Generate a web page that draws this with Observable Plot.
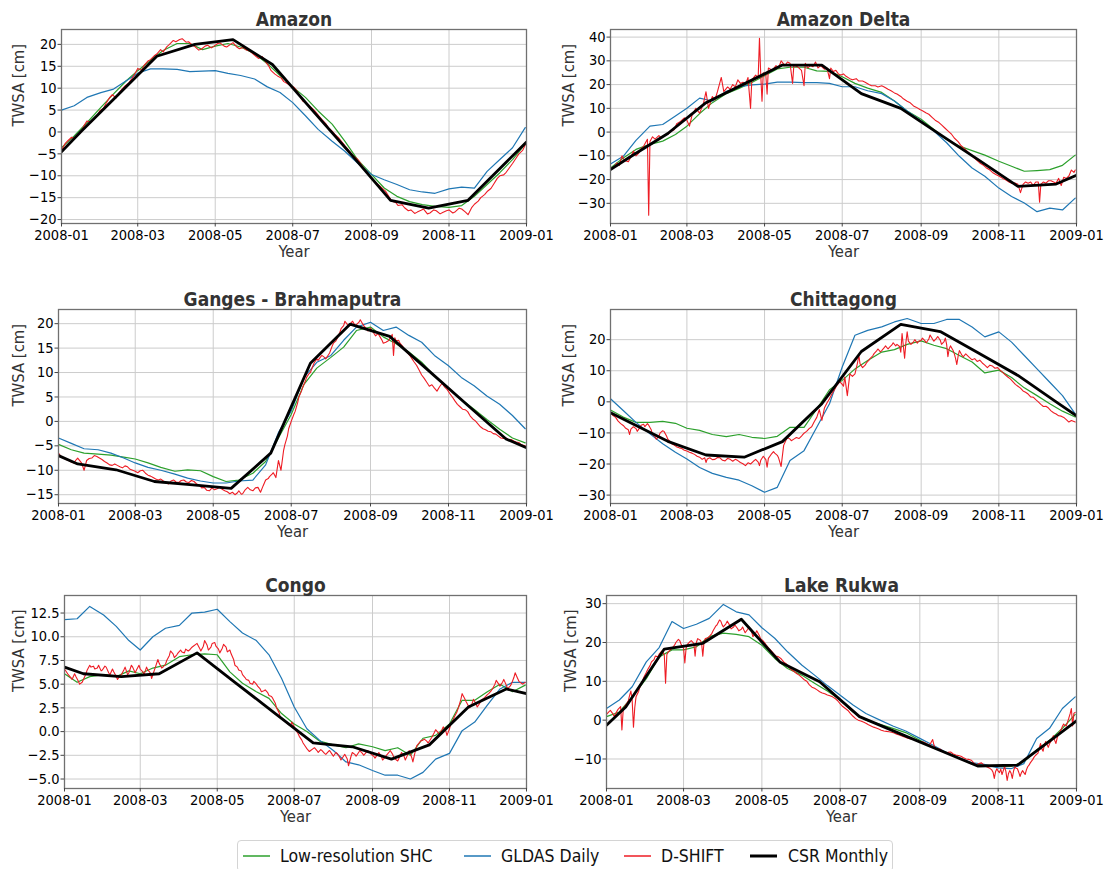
<!DOCTYPE html>
<html><head><meta charset="utf-8">
<script src="https://cdn.jsdelivr.net/npm/d3@7"></script>
<script src="https://cdn.jsdelivr.net/npm/@observablehq/plot@0.6"></script>
<style>
body{margin:0;background:#fff;}
#root{position:relative;width:1105px;height:869px;overflow:hidden;font-family:"DejaVu Sans Condensed","DejaVu Sans",sans-serif;font-stretch:condensed;}
.panel{position:absolute;}
.legend{position:absolute;left:237px;top:840px;width:656px;height:32px;box-sizing:border-box;border:1px solid #d4d4d4;border-radius:4px;font-size:17.5px;color:#111;}
.sw{position:absolute;top:9px;width:27px;height:12px;}
.lt{position:absolute;top:4px;white-space:nowrap;line-height:22px;}
</style></head>
<body><div id="root"></div>
<script>
// ---------- shared x positions ----------
const smoothDates = ["2008-01-01","2008-01-11","2008-01-21","2008-02-01","2008-02-11","2008-02-21","2008-03-01","2008-03-11","2008-03-21","2008-04-01","2008-04-11","2008-04-21","2008-05-01","2008-05-11","2008-05-21","2008-06-01","2008-06-11","2008-06-21","2008-07-01","2008-07-11","2008-07-21","2008-08-01","2008-08-11","2008-08-21","2008-09-01","2008-09-11","2008-09-21","2008-10-01","2008-10-11","2008-10-21","2008-11-01","2008-11-11","2008-11-21","2008-12-01","2008-12-11","2008-12-21","2008-12-31"];
const monthlyDates = ["2008-01-01","2008-01-16","2008-02-15","2008-03-16","2008-04-15","2008-05-15","2008-06-15","2008-07-16","2008-08-16","2008-09-16","2008-10-16","2008-11-16","2008-12-16","2009-01-01"];
const xTickDates = ["2008-01-01","2008-03-01","2008-05-01","2008-07-01","2008-09-01","2008-11-01","2009-01-01"];
const seriesNames = ["Low-resolution SHC","GLDAS Daily","D-SHIFT","CSR Monthly"];

// ---------- Amazon ----------
const amazonSHC = [-3.6,-0.9,2.1,5.6,8.7,11.7,14.0,16.3,18.6,20.2,20.2,18.8,19.6,20.2,19.4,17.9,15.6,12.9,10.3,7.9,4.8,1.8,-2.1,-6.3,-9.7,-12.8,-14.7,-15.9,-16.6,-17.0,-17.2,-16.8,-14.7,-12.0,-9.3,-6.3,-2.8];
const amazonGLDAS = [5.0,6.0,7.9,9.0,9.8,11.7,13.4,14.4,14.4,14.3,13.8,13.9,14.0,13.4,12.9,12.1,10.3,9.0,6.7,3.7,0.6,-2.1,-4.4,-7.1,-9.7,-10.9,-12.0,-13.2,-13.7,-14.0,-13.0,-12.6,-12.8,-9.0,-6.3,-3.6,1.0];
const amazonDSHIFT = [[0,-4.2],[3,-2.6],[5,-2.0],[8,-1.2],[10,-1.5],[13,-0.6],[15,-0.2],[18,1.6],[20,2.5],[23,2.2],[25,2.7],[28,3.6],[30,4.8],[33,5.4],[35,6.5],[38,7.9],[40,8.5],[43,7.8],[45,8.8],[48,9.9],[50,10.5],[53,11.2],[55,12.0],[58,13.4],[60,14.5],[63,14.1],[65,15.2],[68,16.2],[70,16.5],[73,17.4],[75,17.8],[78,18.8],[80,18.3],[83,19.5],[85,20.0],[88,20.9],[90,20.6],[93,21.1],[95,21.3],[98,20.5],[100,20.6],[103,19.8],[105,19.5],[108,18.7],[110,18.9],[113,19.6],[115,19.8],[118,19.2],[120,19.6],[123,20.2],[125,20.3],[128,19.6],[130,19.4],[133,20.0],[135,20.4],[138,19.4],[140,19.0],[143,19.3],[145,18.8],[148,18.5],[150,18.0],[153,17.3],[155,16.8],[158,17.2],[160,16.3],[163,15.1],[165,14.0],[168,13.2],[170,12.8],[173,12.3],[175,11.5],[178,11.0],[180,10.6],[183,10.2],[185,9.5],[188,8.0],[190,7.0],[193,6.6],[195,6.0],[198,5.2],[200,4.6],[203,3.5],[205,2.8],[208,1.9],[210,1.0],[213,0.2],[215,-0.5],[218,-1.3],[220,-2.0],[223,-3.1],[225,-3.8],[228,-4.9],[230,-5.5],[233,-6.2],[235,-7.0],[238,-8.3],[240,-9.0],[243,-10.2],[245,-10.8],[248,-11.7],[250,-12.2],[253,-13.0],[255,-13.5],[258,-14.9],[260,-15.8],[263,-16.1],[265,-16.8],[268,-16.6],[270,-17.3],[273,-18.0],[275,-17.8],[278,-18.6],[280,-18.3],[283,-17.9],[285,-17.6],[288,-18.7],[290,-18.5],[293,-17.8],[295,-18.0],[298,-18.7],[300,-18.4],[303,-18.0],[305,-17.8],[308,-18.5],[310,-18.2],[313,-17.4],[315,-17.6],[318,-18.3],[320,-18.9],[323,-17.2],[325,-16.5],[328,-15.8],[330,-15.0],[333,-14.3],[335,-13.6],[338,-12.9],[340,-12.0],[343,-10.6],[345,-10.0],[348,-9.8],[350,-9.2],[353,-8.0],[355,-7.2],[358,-5.9],[360,-5.0],[363,-4.2],[365,-3.0]];
const amazonCSR = [-4.5,0.0,8.6,17.3,20.0,21.1,15.4,5.1,-5.1,-15.6,-17.4,-15.6,-6.9,-2.3];

// ---------- Amazon Delta ----------
const deltaSHC = [-15.1,-10.9,-7.3,-5.2,-3.8,-1.0,2.5,7.8,12.4,16.2,18.4,20.9,23.7,26.6,27.3,27.3,25.8,25.6,23.3,20.5,18.5,16.7,13.1,8.9,5.4,1.1,-3.1,-5.9,-7.8,-9.7,-12.3,-14.4,-16.5,-16.2,-15.8,-14.0,-9.7];
const deltaGLDAS = [-13.4,-10.2,-3.5,2.5,3.2,6.8,10.0,14.3,13.1,17.2,19.1,19.9,20.2,21.0,21.0,20.8,20.8,20.5,19.1,19.1,17.4,16.2,13.1,8.9,4.7,0.4,-4.5,-10.2,-15.1,-18.6,-23.6,-27.1,-29.9,-33.5,-32.0,-32.8,-27.8];
const deltaDSHIFT = [[0,-15.5],[3,-14.5],[5,-13],[7,-14],[9,-10],[11,-12],[14,-12.5],[16,-10.5],[18,-8],[20,-10],[22,-9],[24,-7],[26,-6],[28,-4],[29,-3],[30,-35],[31,-4],[33,-2],[35,-3],[38,-1.5],[40,-2.5],[43,-1],[45,-1],[48,0.5],[50,1],[52,3.5],[55,4.5],[58,6],[60,5],[62,2.5],[64,7],[67,10],[70,8],[73,12],[75,17],[77,10],[80,15],[82,13.5],[84,17],[87,23],[89,17],[92,19],[94,18],[96,20],[98,19],[100,22],[102,20.5],[104,21],[106,20],[108,23],[110,10],[111,22],[114,24],[116,23],[117,39.5],[118,24],[119,13],[120,25],[122,24],[123,16],[124,27],[127,26],[130,28],[132,27],[134,30],[137,28],[139,29.5],[141,29],[143,20.5],[144,28],[147,27.5],[150,26],[152,19.5],[153,29],[155,27],[157,28],[159,27.5],[161,29.5],[163,27],[165,28],[168,26.5],[170,27],[172,22.5],[173,27],[175,25.5],[177,26],[179,24.5],[181,24],[183,24.5],[185,23.5],[188,22.5],[190,22],[193,22.5],[195,21.5],[198,21.5],[200,21],[203,20],[205,19.5],[208,19.5],[210,19],[213,19.5],[215,19],[218,18],[220,17.5],[223,16.5],[225,16],[228,15],[230,14],[233,13],[235,12.5],[238,11],[240,10.5],[243,9.5],[245,9],[248,8],[250,7.5],[253,6],[255,5],[258,4],[260,3],[263,1.5],[265,0.5],[268,-1],[270,-2.5],[273,-4],[275,-5.5],[278,-7],[280,-8],[283,-9.5],[285,-10.5],[288,-12],[290,-13],[293,-14],[295,-15],[298,-16],[300,-17],[303,-18],[305,-18.5],[308,-19.5],[310,-20],[313,-21],[315,-21.5],[318,-21.5],[320,-22],[322,-25.5],[324,-22],[326,-21],[328,-21.5],[330,-21],[332,-22.5],[334,-21],[336,-21],[337,-29.5],[338,-22],[340,-21],[342,-21.5],[344,-20.5],[346,-20.5],[348,-21],[350,-21.5],[352,-19.5],[354,-22.5],[356,-19],[358,-19.5],[360,-18.5],[362,-16],[364,-17],[365,-16]];
const deltaCSR = [-15.8,-10.6,-0.6,12.4,20.3,28.2,28.2,16.2,10.0,-1.1,-11.7,-22.9,-21.9,-18.2];

// ---------- Ganges - Brahmaputra ----------
const gangesSHC = [-4.7,-5.8,-6.5,-6.7,-6.9,-7.3,-7.7,-8.5,-9.4,-10.2,-9.9,-10.1,-11.3,-12.3,-12.0,-10.6,-8.2,-3.4,1.4,7.6,10.9,13.1,15.2,18.6,19.3,17.3,15.9,14.2,12.1,9.3,6.8,4.5,2.5,0.4,-1.6,-3.4,-4.4];
const gangesGLDAS = [-3.4,-4.5,-5.6,-5.8,-6.5,-7.5,-8.5,-9.4,-10.0,-10.8,-11.6,-12.2,-12.6,-12.6,-12.2,-12.0,-8.9,-2.3,2.1,9.0,12.1,13.5,16.6,19.3,20.3,18.6,19.3,17.6,16.2,13.5,11.4,9.0,7.3,5.2,3.5,1.2,-1.5];
const gangesDSHIFT = [[0,-6.5],[2,-7.2],[4,-7.5],[6,-7.8],[8,-8],[10,-8.3],[12,-8.5],[14,-7.8],[15,-7.5],[18,-8.5],[20,-10],[22,-8],[24,-7.6],[26,-7.5],[28,-7.0],[30,-7.2],[32,-7.5],[34,-7.8],[36,-8.2],[38,-8.5],[40,-8.9],[42,-9],[44,-8.7],[46,-9],[48,-9.3],[50,-9.5],[52,-9.1],[54,-9.3],[56,-9.8],[58,-10],[60,-10.2],[62,-10.5],[64,-10.1],[66,-10],[68,-10.6],[70,-11],[72,-11.2],[74,-11.5],[76,-11.8],[78,-12],[80,-11.8],[82,-12.2],[84,-12.5],[86,-12.8],[88,-12.2],[90,-12],[92,-12.4],[94,-12.5],[96,-12.1],[98,-12],[100,-12.4],[102,-12.5],[104,-12.1],[106,-12.3],[108,-12.8],[110,-13],[112,-13.6],[114,-13.5],[116,-14.1],[118,-14.2],[120,-13.6],[122,-14],[124,-13.8],[126,-13.5],[128,-13.9],[130,-14.2],[132,-14.4],[134,-14.8],[136,-14.5],[138,-15],[140,-14.6],[141,-14.2],[143,-14.9],[144,-14.8],[146,-14.0],[148,-13.5],[150,-14.0],[152,-14.2],[154,-13.6],[156,-13.5],[158,-14.5],[160,-13.2],[162,-12],[164,-11.7],[165,-11.3],[167,-10.8],[168,-10.5],[170,-11.5],[172,-8],[174,-10],[176,-6],[177,-4.8],[179,-3],[180,-1.5],[182,0],[184,1.4],[185,2],[187,3.8],[188,5],[190,6.2],[191,7],[193,8.2],[194,9],[196,9.8],[197,10],[199,11.4],[200,12],[202,12.8],[203,12.5],[205,13.2],[206,13.5],[208,13.1],[209,12.8],[211,13.6],[212,14],[214,15.4],[215,16],[217,16.5],[218,17],[220,18.2],[221,19],[223,19.6],[224,20.5],[226,19.8],[227,19.5],[229,20.2],[230,20.5],[232,19.6],[233,19.8],[235,20.3],[236,20.8],[238,19.9],[239,19.5],[241,18.9],[242,18.5],[244,19.1],[245,18.7],[247,17.9],[248,17.5],[250,18.0],[251,17.5],[253,16.6],[254,16],[256,16.2],[258,16.5],[260,17.3],[261,17.8],[262,13.5],[263,17.1],[264,16.5],[266,16.6],[267,16],[269,15.4],[270,15],[272,14.4],[273,14],[275,13.4],[276,13],[278,12.2],[280,11.5],[282,10.5],[284,9.5],[286,8.8],[288,8],[290,7.2],[292,7.5],[294,6.8],[296,6.2],[298,7.1],[300,7.8],[302,7.0],[304,6.5],[306,5.7],[308,5],[310,4.2],[312,3.5],[314,3.0],[316,2.5],[318,2.4],[320,2],[322,1.1],[324,0.5],[326,0.1],[328,-0.5],[330,-1.1],[332,-1.5],[334,-1.7],[336,-2],[338,-2.1],[340,-2.5],[342,-2.6],[344,-3],[346,-3.4],[348,-3.5],[350,-3.4],[352,-3.8],[354,-3.7],[356,-4],[358,-4.2],[360,-4.3],[362,-4.8],[365,-5]];
const gangesCSR = [-7.0,-8.7,-9.9,-12.3,-13.0,-13.7,-6.5,11.9,19.9,17.4,10.5,3.3,-3.6,-5.4];

// ---------- Chittagong ----------
const chittSHC = [-2.6,-4.9,-6.6,-6.6,-6.3,-6.9,-8.5,-9.2,-10.5,-11.2,-10.5,-11.4,-11.8,-11.1,-8.2,-8.2,-2.3,3.9,6.9,10.6,13.3,16.0,16.8,18.5,19.6,18.2,17.1,14.9,12.8,9.3,10.2,7.8,4.5,2.0,-0.6,-3.0,-4.9];
const chittGLDAS = [1.0,-2.8,-6.6,-10.3,-13.5,-16.2,-18.4,-21.1,-23.0,-24.3,-25.2,-27.0,-29.1,-27.5,-18.9,-15.7,-8.2,-0.6,11.2,21.4,23.0,24.1,25.7,26.8,25.2,25.2,26.5,26.5,24.1,20.9,22.5,19.2,14.9,10.6,6.3,2.0,-3.9];
const chittDSHIFT = [[0,-3.5],[2,-4.4],[4,-5],[6,-6.2],[8,-7],[10,-7.6],[12,-8.5],[14,-9.0],[15,-10.5],[16,-8.8],[18,-8],[20,-8.6],[21,-9.5],[23,-8.3],[24,-7.5],[26,-7.2],[27,-8],[29,-7.0],[30,-7.5],[32,-9.0],[33,-10.5],[35,-11.2],[36,-12],[38,-11.0],[39,-10],[41,-9.3],[42,-9.5],[44,-11.0],[45,-12],[47,-12.9],[48,-13.5],[50,-13.9],[52,-14.5],[54,-14.8],[56,-15],[58,-15.6],[60,-15.8],[62,-16.2],[64,-16.5],[66,-16.9],[68,-17.5],[70,-17.8],[72,-18.5],[74,-18.0],[75,-19.5],[76,-18.4],[78,-18],[80,-18.6],[82,-18.5],[84,-17.9],[86,-18],[88,-18.8],[90,-19],[92,-18.2],[94,-18.5],[96,-19.1],[98,-18.5],[100,-18.9],[102,-19.5],[104,-19.9],[106,-20.5],[108,-19.6],[110,-20],[112,-19.2],[114,-18.5],[116,-19.4],[117,-20.5],[118,-18.8],[120,-17.5],[122,-18.6],[123,-21],[124,-18.2],[126,-17],[128,-16.0],[129,-16.5],[131,-17.2],[132,-18],[134,-20.8],[136,-14],[138,-12.2],[139,-11.5],[141,-12.0],[142,-12.5],[144,-12.0],[146,-11.5],[148,-11.8],[150,-11],[152,-10.1],[154,-9.5],[156,-8.6],[158,-8],[160,-6.4],[162,-5],[164,-2.5],[166,-6],[168,-2],[170,-0.4],[172,1],[174,2.6],[176,4],[178,5.4],[180,6.5],[182,5.6],[183,5],[184,8],[186,2],[188,9],[190,8.2],[192,9],[194,12.5],[195,15],[196,12.2],[198,11],[200,11.8],[201,12.5],[203,13.4],[204,14],[206,14.8],[207,15.5],[209,16.4],[210,17],[212,16.1],[213,16.5],[215,17.4],[216,18],[218,17.0],[219,17.5],[221,18.3],[222,19],[224,18.0],[225,18.5],[227,17.8],[228,16],[229,22],[230,18],[231,14],[232,19],[233,22.5],[234,19.5],[236,18.5],[238,19.3],[239,20],[241,18.9],[242,19.5],[244,19.8],[245,20.5],[247,19.6],[248,19],[250,20.2],[251,21.5],[253,20.1],[254,19.5],[256,20.4],[257,21],[259,19.8],[260,18.5],[262,19.4],[263,20.5],[264,18.5],[265,14.5],[266,17.0],[267,18],[269,16.6],[270,15.5],[271,14.0],[272,12],[273,14.6],[274,16.5],[276,15.0],[277,14.5],[279,15.4],[280,15],[282,14.2],[284,13.5],[286,13.9],[288,13],[290,13.4],[292,12.5],[294,11.8],[296,11],[298,11.8],[300,11.5],[302,10.8],[304,11],[306,10.2],[308,9.5],[310,8.7],[312,8],[314,7.4],[316,6.5],[318,5.6],[320,5],[322,4.4],[324,3.5],[326,3.1],[328,2.5],[330,1.6],[332,1.5],[334,0.7],[336,0],[338,-0.8],[340,-1.5],[342,-1.4],[344,-2],[346,-2.9],[348,-3.5],[350,-3.9],[352,-4.5],[354,-4.6],[356,-5],[358,-5.7],[360,-6.5],[362,-6.0],[365,-6.5]];
const chittCSR = [-3.5,-6.6,-12.7,-17.1,-17.8,-12.8,-0.6,16.2,24.9,22.6,15.7,8.5,0.0,-4.5];

// ---------- Congo ----------
const congoSHC = [6.1,5.2,5.8,6.0,5.8,6.4,6.1,6.7,7.0,7.9,8.1,8.2,8.1,6.3,5.1,4.2,3.5,1.9,0.8,0.0,-1.0,-1.4,-1.7,-1.3,-1.6,-2.0,-1.7,-2.5,-0.7,-0.4,0.8,3.3,3.3,4.2,5.0,4.2,4.9];
const congoGLDAS = [11.8,11.9,13.2,12.3,11.1,9.6,8.6,10.0,10.9,11.2,12.5,12.6,12.9,11.6,10.4,9.6,8.1,5.6,2.6,0.3,-0.9,-2.0,-3.2,-3.5,-4.1,-4.6,-4.6,-5.0,-4.3,-2.9,-2.3,0.1,1.0,2.8,4.5,5.2,5.2];
const congoDSHIFT = [[0,6.6],[2,6.2],[3,6.0],[5,5.7],[6,5.5],[8,6.1],[9,5.8],[11,5.3],[12,5.0],[14,5.2],[15,5.5],[17,6.1],[18,6.5],[20,7.0],[21,6.8],[23,6.9],[24,6.6],[26,6.7],[27,7.0],[29,6.4],[30,6.5],[32,6.9],[33,6.8],[35,6.2],[36,6.0],[38,6.6],[39,6.3],[41,5.8],[42,5.5],[44,5.9],[45,6.0],[47,6.5],[48,6.8],[50,6.0],[51,6.2],[53,7.0],[54,6.8],[56,6.2],[57,6.5],[59,7.0],[60,6.6],[62,6.3],[63,6.0],[65,6.8],[66,6.5],[68,6.2],[69,5.6],[71,6.4],[72,6.8],[74,7.6],[75,7.2],[77,6.7],[78,6.8],[80,7.1],[81,7.5],[83,8.0],[84,8.5],[86,8.2],[87,7.8],[89,8.1],[90,8.3],[92,8.6],[93,8.4],[95,8.3],[96,8.7],[98,8.5],[99,8.6],[101,8.9],[102,9.0],[104,9.2],[105,9.3],[107,8.8],[108,8.5],[110,9.0],[111,9.6],[113,9.1],[114,8.6],[116,8.9],[117,9.3],[119,9.4],[120,9.0],[122,8.7],[123,8.3],[125,8.8],[126,9.2],[128,8.9],[129,8.4],[131,8.6],[132,8.2],[134,7.6],[135,7.0],[137,6.8],[138,6.5],[140,6.4],[141,6.0],[143,5.7],[144,5.5],[146,5.4],[147,5.1],[149,5.0],[150,5.3],[152,5.0],[153,4.8],[155,4.5],[156,4.2],[158,4.3],[159,4.4],[161,4.1],[162,3.8],[164,3.7],[165,3.5],[167,3.0],[168,2.5],[170,2.0],[171,1.5],[173,1.3],[174,1.2],[176,1.0],[177,0.8],[179,0.6],[180,1.0],[182,0.5],[183,0.2],[185,-0.2],[186,-0.5],[188,-0.9],[189,-1.2],[191,-1.6],[192,-1.8],[194,-2.1],[195,-2.0],[197,-1.8],[198,-1.7],[200,-2.0],[201,-2.2],[203,-1.9],[204,-2.0],[206,-2.3],[207,-2.4],[209,-2.1],[210,-2.0],[212,-2.4],[213,-2.6],[215,-2.2],[216,-2.3],[218,-2.7],[219,-3.0],[221,-2.6],[222,-2.4],[224,-2.9],[225,-3.6],[227,-2.6],[228,-2.2],[230,-2.4],[231,-2.6],[233,-2.2],[234,-2.0],[236,-2.3],[237,-2.5],[239,-2.2],[240,-2.0],[242,-2.2],[243,-2.4],[245,-2.6],[246,-2.8],[248,-2.4],[249,-2.2],[251,-2.6],[252,-3.0],[254,-2.7],[255,-2.5],[257,-2.2],[258,-2.0],[260,-2.4],[261,-2.8],[263,-3.0],[264,-3.1],[266,-2.5],[267,-2.2],[269,-2.6],[270,-3.0],[272,-2.4],[273,-2.0],[275,-2.7],[276,-3.2],[278,-2.0],[279,-1.5],[281,-1.2],[282,-1.0],[284,-0.9],[285,-0.8],[287,-1.0],[288,-1.2],[290,-0.8],[291,-0.6],[293,-0.1],[294,0.2],[296,-0.1],[297,-0.3],[299,0.2],[300,0.5],[302,0.1],[303,-0.4],[305,0.3],[306,0.8],[308,1.3],[309,1.6],[311,2.1],[312,2.5],[314,3.4],[315,4.0],[317,3.5],[318,3.2],[320,2.7],[321,2.5],[323,3.0],[324,3.4],[326,2.9],[327,2.6],[329,3.0],[330,3.3],[332,3.5],[333,3.6],[335,3.9],[336,4.0],[338,4.3],[339,4.5],[341,5.0],[342,5.4],[344,5.0],[345,4.8],[347,5.2],[348,5.5],[350,4.9],[351,4.5],[353,4.8],[354,5.0],[356,5.7],[357,6.2],[359,5.6],[360,5.3],[362,5.1],[363,5.0],[365,5.2]];
const congoCSR = [6.8,6.1,5.8,6.1,8.3,5.2,2.0,-1.2,-1.6,-2.9,-1.4,2.6,4.5,4.0];

// ---------- Lake Rukwa ----------
const rukwaSHC = [0.9,2.1,6.0,10.7,16.3,18.1,18.1,18.9,21.5,22.4,22.1,21.5,19.3,15.9,13.3,11.6,9.5,7.5,5.2,2.1,0.0,-1.1,-2.1,-3.2,-5.2,-6.9,-8.2,-9.7,-11.2,-11.6,-12.0,-11.9,-10.7,-7.7,-5.2,-2.1,1.5];
const rukwaGLDAS = [3.0,5.2,8.6,15.0,18.7,25.4,23.6,24.7,26.2,29.8,27.9,27.1,23.8,21.1,17.6,14.2,11.6,8.9,6.4,3.9,1.7,0.0,-1.5,-2.8,-4.7,-6.4,-8.2,-9.7,-10.9,-11.4,-12.3,-12.5,-11.2,-4.7,-2.1,3.0,6.0];
const rukwaDSHIFT = [[0,1.5],[2,2.2],[3,2.5],[5,1.6],[6,1.0],[8,2.2],[9,2.8],[11,3.5],[12,-2.5],[13,2.6],[14,3.5],[16,4.4],[17,5],[18,6.4],[19,7.5],[20,5.0],[21,-1.8],[22,3.2],[23,6],[25,7.4],[26,8.5],[28,10.1],[29,11],[31,12.3],[32,13],[34,14.1],[35,15],[37,15.6],[38,16.5],[40,16.3],[41,17],[43,17.8],[44,17.5],[45,16.8],[46,9.5],[47,16.9],[48,17.5],[50,18.2],[51,18.5],[53,19.3],[54,20],[56,20.8],[57,20.5],[58,19.6],[59,19],[60,18.5],[61,14.7],[62,18.6],[63,19.5],[65,20.2],[66,20.5],[68,19.8],[69,16.5],[70,20.0],[71,21],[73,20.6],[74,20],[75,16.5],[76,20.3],[77,21],[79,21.2],[80,21.5],[82,22.3],[83,23],[85,24.2],[86,24.5],[88,25.8],[89,25.5],[90,24.6],[91,24],[93,24.8],[94,25.5],[96,24.4],[97,23.5],[99,24.0],[100,24.5],[102,23.6],[103,23],[105,23.4],[106,24],[107,23.2],[108,22.5],[110,23.4],[111,24],[113,22.8],[114,21.5],[116,22.3],[117,23],[119,21.8],[120,21],[122,20.4],[124,19.5],[126,18.7],[128,18],[130,17.2],[132,16.5],[134,16.3],[136,15.8],[138,15.0],[140,14.5],[142,13.6],[144,13],[146,12.6],[148,12],[150,11.6],[152,11],[154,10.4],[156,10],[158,9.1],[160,8.5],[162,8.2],[164,7.8],[166,7.3],[168,7],[170,6.8],[172,6.5],[174,6.3],[176,6],[178,5.6],[180,5],[182,4.2],[184,3.5],[186,3.0],[188,2.5],[190,1.7],[192,1],[194,0.4],[196,0],[198,-0.2],[200,-0.5],[202,-0.8],[204,-1.2],[206,-1.5],[208,-1.8],[210,-2.0],[212,-2.3],[214,-2.6],[216,-2.8],[218,-2.9],[220,-3],[222,-3.1],[224,-3.3],[226,-3.6],[228,-3.8],[230,-4.1],[232,-4.3],[234,-4.6],[236,-4.8],[238,-4.9],[240,-5],[242,-5.3],[244,-5.5],[246,-5.6],[248,-5.8],[250,-6.2],[251,-6.5],[252,-6.2],[254,-5],[255,-6.4],[256,-7.2],[258,-7.3],[260,-7.5],[262,-8.0],[264,-8.5],[266,-8.3],[268,-8.2],[270,-8.7],[272,-9],[274,-9.1],[276,-9.3],[278,-9.7],[280,-10],[282,-10.1],[284,-10.3],[286,-11.0],[288,-11.5],[290,-11.2],[292,-11],[294,-11.6],[296,-12],[298,-12.3],[300,-12.8],[301,-13.4],[302,-15],[303,-13.2],[304,-12.5],[305,-13.1],[306,-13.5],[307,-12.6],[308,-14],[309,-13.0],[310,-12],[311,-13.2],[312,-15.5],[313,-13.8],[314,-13],[315,-13.6],[316,-15],[317,-13.1],[318,-12],[319,-12.4],[320,-12.5],[321,-13.4],[322,-14.5],[323,-13.6],[324,-13],[325,-13.5],[326,-14],[327,-12.8],[328,-12],[329,-11.6],[330,-11],[332,-10.1],[333,-9.5],[334,-9.1],[336,-8.5],[337,-7.3],[338,-6],[339,-7.4],[340,-8],[341,-6.4],[342,-5.5],[343,-6.2],[344,-7],[345,-6.1],[346,-5.5],[347,-4.8],[348,-4],[349,-5.2],[350,-6],[351,-4.5],[352,-3.5],[353,-3.0],[354,-2.5],[355,-1.6],[356,-1],[357,-1.4],[358,-1.5],[359,-0.5],[360,0.5],[361,1.6],[362,3],[363,-1.5],[364,1.8],[365,2]];
const rukwaCSR = [-1.3,3.4,18.3,19.8,26.0,15.0,9.9,0.9,-3.4,-7.7,-11.8,-11.6,-4.2,-0.2];

// ---------- tick lists ----------
const amazonYTicks = [-20,-15,-10,-5,0,5,10,15,20];
const deltaYTicks = [-30,-20,-10,0,10,20,30,40];
const gangesYTicks = [-15,-10,-5,0,5,10,15,20];
const chittYTicks = [-30,-20,-10,0,10,20];
const congoYTicks = [-5,-2.5,0,2.5,5,7.5,10,12.5];
const rukwaYTicks = [-10,0,10,20,30];

// ---------- rendering ----------
const FONT = '"DejaVu Sans Condensed","DejaVu Sans",sans-serif';
const COLORS = {shc:"#2ca02c", gldas:"#1f77b4", dshift:"#ee1c24", csr:"#000000"};
const START = Date.UTC(2008,0,1);
const dayDate = d => new Date(START + d*864e5);
const onGrid = (dates, vals) => vals.map((v,i) => ({date: new Date(dates[i]), value: v}));
const fromPairs = p => p.map(([d,v]) => ({date: dayDate(d), value: v}));

const panels = [
  {title:"Amazon", shc:amazonSHC, gldas:amazonGLDAS, dshift:amazonDSHIFT, csr:amazonCSR, yDomain:[-20.9,23.4], yTicks:amazonYTicks, fmt:"d",
   frame:{L:61,R:526,T:29,B:223}, svg:{left:0,top:0,width:540}, labelX:18},
  {title:"Amazon Delta", shc:deltaSHC, gldas:deltaGLDAS, dshift:deltaDSHIFT, csr:deltaCSR, yDomain:[-38.5,43.2], yTicks:deltaYTicks, fmt:"d",
   frame:{L:610,R:1076,T:29,B:223}, svg:{left:550,top:0,width:555}, labelX:568},
  {title:"Ganges - Brahmaputra", shc:gangesSHC, gldas:gangesGLDAS, dshift:gangesDSHIFT, csr:gangesCSR, yDomain:[-16.8,22.9], yTicks:gangesYTicks, fmt:"d",
   frame:{L:58,R:526,T:309,B:503}, svg:{left:0,top:280,width:540}, labelX:18},
  {title:"Chittagong", shc:chittSHC, gldas:chittGLDAS, dshift:chittDSHIFT, csr:chittCSR, yDomain:[-32.7,29.7], yTicks:chittYTicks, fmt:"d",
   frame:{L:610,R:1076,T:309,B:503}, svg:{left:550,top:280,width:555}, labelX:568},
  {title:"Congo", shc:congoSHC, gldas:congoGLDAS, dshift:congoDSHIFT, csr:congoCSR, yDomain:[-6.0,14.35], yTicks:congoYTicks, fmt:".1f",
   frame:{L:64,R:526,T:595,B:788}, svg:{left:0,top:566,width:540}, labelX:18},
  {title:"Lake Rukwa", shc:rukwaSHC, gldas:rukwaGLDAS, dshift:rukwaDSHIFT, csr:rukwaCSR, yDomain:[-17.6,32.1], yTicks:rukwaYTicks, fmt:"d",
   frame:{L:606,R:1076,T:595,B:788}, svg:{left:550,top:566,width:555}, labelX:570}
];

const root = document.getElementById("root");
const xTicks = xTickDates.map(d => new Date(d));

for (const p of panels) {
  const marginLeft = p.frame.L - p.svg.left;
  const marginRight = p.svg.left + p.svg.width - p.frame.R;
  const marginTop = p.frame.T - p.svg.top;
  const marginBottom = 46;
  const height = marginTop + (p.frame.B - p.frame.T) + marginBottom;
  const fmt = d3.format(p.fmt);
  const chart = Plot.plot({
    width: p.svg.width, height, marginLeft, marginRight, marginTop, marginBottom,
    style: {fontFamily: FONT, fontStretch: "condensed", fontSize: "14.5px", color: "#000", background: "transparent", overflow: "visible"},
    x: {type: "utc", domain: [new Date("2008-01-01"), new Date("2009-01-01")]},
    y: {domain: p.yDomain},
    marks: [
      Plot.gridX(xTicks, {stroke: "#cccccc", strokeOpacity: 1, strokeWidth: 1}),
      Plot.gridY(p.yTicks, {stroke: "#cccccc", strokeOpacity: 1, strokeWidth: 1}),
      Plot.line(onGrid(smoothDates, p.shc), {x: "date", y: "value", stroke: COLORS.shc, strokeWidth: 1.2, clip: true}),
      Plot.line(onGrid(smoothDates, p.gldas), {x: "date", y: "value", stroke: COLORS.gldas, strokeWidth: 1.2, clip: true}),
      Plot.line(fromPairs(p.dshift), {x: "date", y: "value", stroke: COLORS.dshift, strokeWidth: 1.1, clip: true}),
      Plot.line(onGrid(monthlyDates, p.csr), {x: "date", y: "value", stroke: COLORS.csr, strokeWidth: 2.8, clip: true}),
      Plot.frame({stroke: "#707070", strokeWidth: 1.3}),
      Plot.axisX(xTicks, {tickFormat: d3.utcFormat("%Y-%m"), tickSize: 3.5, tickPadding: 2.5, label: null, stroke: "#444"}),
      Plot.axisY(p.yTicks, {tickFormat: fmt, tickSize: 3.5, tickPadding: 1.5, label: null, stroke: "#444"}),
      Plot.text([p.title], {text: d => d, frameAnchor: "top", dy: -17, fontSize: 19, fontWeight: "bold", fill: "#333"}),
      Plot.text(["Year"], {text: d => d, frameAnchor: "bottom", dy: 33, fontSize: 16.5, fill: "#333"}),
      Plot.text(["TWSA [cm]"], {text: d => d, frameAnchor: "left", dx: p.labelX - p.frame.L, rotate: -90, fontSize: 16.5, fill: "#333"})
    ]
  });
  const div = document.createElement("div");
  div.className = "panel";
  div.style.left = p.svg.left + "px";
  div.style.top = p.svg.top + "px";
  div.appendChild(chart);
  root.appendChild(div);
}

// legend
const legend = document.createElement("div");
legend.className = "legend";
const legendItems = [
  {name: seriesNames[0], color: COLORS.shc, w: 1.5, sx: 5, tx: 42},
  {name: seriesNames[1], color: COLORS.gldas, w: 1.5, sx: 226, tx: 263},
  {name: seriesNames[2], color: COLORS.dshift, w: 1.5, sx: 386, tx: 423},
  {name: seriesNames[3], color: COLORS.csr, w: 3, sx: 512, tx: 550}
];
for (const it of legendItems) {
  const sw = document.createElementNS("http://www.w3.org/2000/svg", "svg");
  sw.setAttribute("class", "sw");
  sw.setAttribute("width", "27");
  sw.setAttribute("height", "12");
  sw.style.left = it.sx + "px";
  const ln = document.createElementNS("http://www.w3.org/2000/svg", "line");
  ln.setAttribute("x1", "0"); ln.setAttribute("x2", "27");
  ln.setAttribute("y1", "6"); ln.setAttribute("y2", "6");
  ln.setAttribute("stroke", it.color);
  ln.setAttribute("stroke-width", it.w);
  sw.appendChild(ln);
  legend.appendChild(sw);
  const t = document.createElement("div");
  t.className = "lt";
  t.style.left = it.tx + "px";
  t.textContent = it.name;
  legend.appendChild(t);
}
root.appendChild(legend);
</script>
</body></html>
